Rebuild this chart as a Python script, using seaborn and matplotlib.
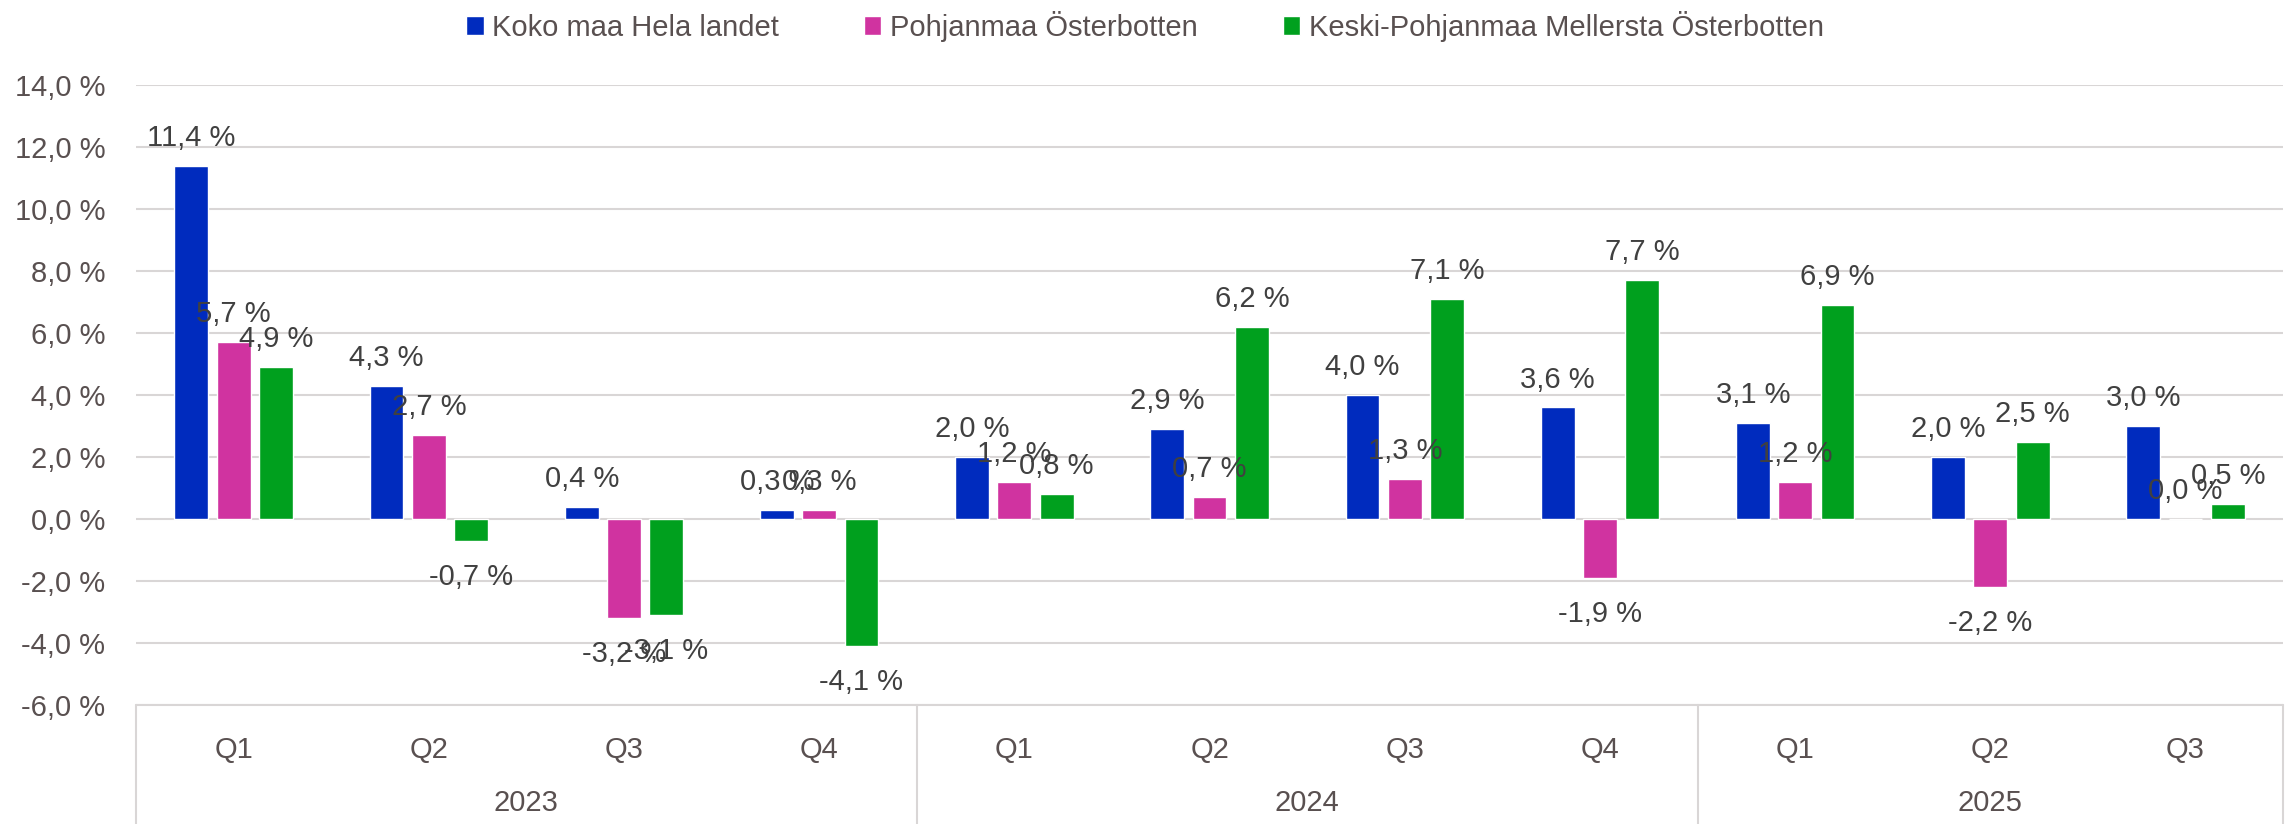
import pandas as pd
import matplotlib.pyplot as plt
import matplotlib.transforms as mtransforms
import seaborn as sns

# Data
years = ["2023", "2023", "2023", "2023", "2024", "2024", "2024", "2024", "2025", "2025", "2025"]
quarters = ["Q1", "Q2", "Q3", "Q4", "Q1", "Q2", "Q3", "Q4", "Q1", "Q2", "Q3"]
koko_maa = [11.4, 4.3, 0.4, 0.3, 2.0, 2.9, 4.0, 3.6, 3.1, 2.0, 3.0]
pohjanmaa = [5.7, 2.7, -3.2, 0.3, 1.2, 0.7, 1.3, -1.9, 1.2, -2.2, 0.0]
keski_pohjanmaa = [4.9, -0.7, -3.1, -4.1, 0.8, 6.2, 7.1, 7.7, 6.9, 2.5, 0.5]
series_names = ["Koko maa Hela landet", "Pohjanmaa Österbotten", "Keski-Pohjanmaa Mellersta Österbotten"]
colors = ["#002BBE", "#D033A0", "#00A01E"]

periods = [f"{y} {q}" for y, q in zip(years, quarters)]
rows = []
for name, vals in zip(series_names, [koko_maa, pohjanmaa, keski_pohjanmaa]):
    for p, v in zip(periods, vals):
        rows.append({"period": p, "series": name, "value": v})
df = pd.DataFrame(rows)

# Style
sns.set_style("white")
plt.rcParams["font.family"] = ["Liberation Sans", "DejaVu Sans"]
text_color = "#595050"
label_color = "#404040"
grid_color = "#D9D6D6"
fs = 21

fig = plt.figure(figsize=(22.9, 8.24), dpi=100)
ax = fig.add_axes([0.0594, 0.1444, 0.9376, 0.7524])

sns.barplot(
    data=df, x="period", y="value", hue="series",
    order=periods, hue_order=series_names, palette=colors,
    width=0.65, gap=0.2, saturation=1, ax=ax, legend=True,
)

ax.set_ylim(-6, 14)
ax.set_xlim(-0.5, 10.5)
ax.set_yticks(range(-6, 15, 2))
ax.set_yticklabels([f"{v:.1f} %".replace(".", ",") for v in range(-6, 15, 2)])
ax.set_xticks(range(len(periods)))
ax.set_xticklabels(quarters)
ax.tick_params(axis="y", length=0, pad=22, labelsize=fs, labelcolor=text_color)
ax.tick_params(axis="x", length=0, pad=22, labelsize=fs, labelcolor=text_color)
ax.set_xlabel("")
ax.set_ylabel("")
for s in ax.spines.values():
    s.set_visible(False)

ax.yaxis.grid(True, color=grid_color, linewidth=1.5)
ax.set_axisbelow(True)

# Data labels
for container in ax.containers:
    for bar in container:
        h = bar.get_height()
        x = bar.get_x() + bar.get_width() / 2
        txt = f"{h:.1f} %".replace(".", ",")
        if h >= 0:
            ax.annotate(txt, (x, h), xytext=(0, 10), textcoords="offset points",
                        ha="center", va="bottom", fontsize=fs, color=label_color)
        else:
            ax.annotate(txt, (x, h), xytext=(0, -16), textcoords="offset points",
                        ha="center", va="top", fontsize=fs, color=label_color)

# Category axis box with year groups
trans = mtransforms.blended_transform_factory(ax.transData, ax.transAxes)
ax.plot([-0.5, 10.5], [0, 0], transform=trans, color=grid_color, linewidth=1.5, clip_on=False)
for xs in [-0.5, 3.5, 7.5, 10.5]:
    ax.plot([xs, xs], [0, -0.2], transform=trans, color=grid_color, linewidth=1.5, clip_on=False)
for yr, center in [("2023", 1.5), ("2024", 5.5), ("2025", 9.0)]:
    ax.text(center, -0.158, yr, transform=trans, ha="center", va="center",
            fontsize=fs, color=text_color)

# Legend
handles, labels = ax.get_legend_handles_labels()
ax.get_legend().remove()
fig.legend(handles, labels, loc="center", bbox_to_anchor=(0.5, 0.968), ncol=3,
           frameon=False, fontsize=fs, labelcolor=text_color,
           handlelength=0.6, handleheight=0.6, handletextpad=0.3, columnspacing=2.9)

plt.savefig("out.png", dpi=100)
plt.close()
